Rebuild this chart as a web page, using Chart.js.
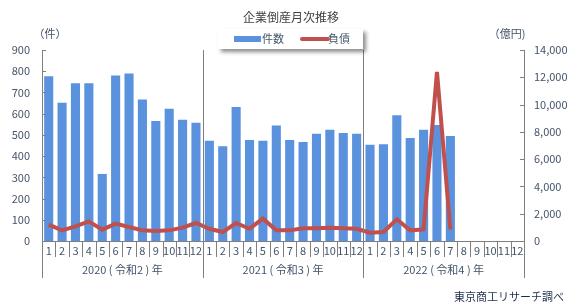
<!DOCTYPE html>
<html>
<head>
<meta charset="utf-8">
<script src="https://cdn.jsdelivr.net/npm/chart.js@4"></script>
<style>
  html, body { margin: 0; padding: 0; background: #fff; }
  #wrap { width: 575px; height: 307px; }
</style>
</head>
<body>
<div id="wrap"><canvas id="chart" width="575" height="307"></canvas></div>
<script>
const months = ['1','2','3','4','5','6','7','8','9','10','11','12']
const labels = [].concat(months, months, months)
const years = ['2020 ( 令和2 ) 年', '2021 ( 令和3 ) 年', '2022 ( 令和4 ) 年']

// 件数
const counts = [776, 652, 743, 743, 316, 780, 789, 667, 566, 623, 571, 557,
                472, 446, 632, 476, 472, 544, 476, 467, 505, 524, 509, 505,
                453, 456, 593, 485, 524, 547, 495]
// 負債 (億円)
const debts = [1200, 780, 1070, 1440, 830, 1270, 1030, 780, 730, 780, 980, 1320,
               900, 660, 1320, 900, 1640, 780, 780, 930, 930, 980, 930, 900,
               610, 660, 1590, 780, 850, 12390, 850]

const leftTicks = [0, 100, 200, 300, 400, 500, 600, 700, 800, 900]
const rightTicks = [0, 2000, 4000, 6000, 8000, 10000, 12000, 14000]

const barColor = '#5a92de'
const lineColor = '#c0504d'
const axisColor = '#7f7f7f'
const textColor = '#44546a'
const jpFont = '"Noto Sans CJK JP", "Noto Sans", sans-serif'

const extras = {
    id: 'extras',
    afterDraw(chart) {
        const c = chart.ctx
        const x = chart.scales.x
        const y = chart.scales.y
        const y1 = chart.scales.y1
        const area = chart.chartArea
        const step = x.getPixelForValue(1) - x.getPixelForValue(0)
        c.save()
        c.strokeStyle = axisColor
        c.lineWidth = 1

        // month separators and year separators
        for (let i = 0; i <= labels.length; i++) {
            const px = Math.round(x.getPixelForValue(i) - step / 2) + 0.5
            c.beginPath()
            if (i % 12 === 0) {
                c.moveTo(px, (i === 0 || i === labels.length) ? area.bottom : area.top)
                c.lineTo(px, area.bottom + 37)
            } else {
                c.moveTo(px, area.bottom)
                c.lineTo(px, area.bottom + 16)
            }
            c.stroke()
        }

        // inward tick marks
        leftTicks.forEach(v => {
            const py = Math.round(y.getPixelForValue(v)) + 0.5
            c.beginPath(); c.moveTo(area.left, py); c.lineTo(area.left + 4, py); c.stroke()
        })
        rightTicks.forEach(v => {
            const py = Math.round(y1.getPixelForValue(v)) + 0.5
            c.beginPath(); c.moveTo(area.right, py); c.lineTo(area.right - 4, py); c.stroke()
        })

        // year labels
        c.fillStyle = textColor
        c.font = '11px ' + jpFont
        c.textAlign = 'center'
        c.textBaseline = 'middle'
        years.forEach((t, k) => {
            const cx = (x.getPixelForValue(k * 12) + x.getPixelForValue(k * 12 + 11)) / 2
            c.fillText(t, cx, area.bottom + 29)
        })

        // units
        c.fillText('（件）', 50, 34)
        c.fillText('（億円)', 507, 34)

        // title
        c.fillStyle = '#404040'
        c.font = '12px ' + jpFont
        c.fillText('企業倒産月次推移', 291, 17)

        // source
        c.fillStyle = '#1f2d4d'
        c.font = '11px ' + jpFont
        c.textAlign = 'right'
        c.fillText('東京商工リサーチ調べ', 564, 297)

        // legend box
        c.save()
        c.shadowColor = 'rgba(0,0,0,0.45)'
        c.shadowOffsetX = 3
        c.shadowOffsetY = 3
        c.shadowBlur = 4
        c.fillStyle = '#ffffff'
        c.fillRect(218, 29, 145, 20)
        c.restore()
        c.fillStyle = barColor
        c.fillRect(234, 36, 27, 6)
        c.strokeStyle = lineColor
        c.lineWidth = 4
        c.lineCap = 'round'
        c.beginPath(); c.moveTo(302, 39); c.lineTo(328, 39); c.stroke()
        c.fillStyle = textColor
        c.font = '11px ' + jpFont
        c.textAlign = 'left'
        c.fillText('件数', 262, 39)
        c.fillText('負債', 328, 39)
        c.restore()
    }
}

new Chart(document.getElementById('chart'), {
    type: 'bar',
    data: {
        labels: labels,
        datasets: [{
            type: 'line',
            label: '負債',
            data: debts,
            yAxisID: 'y1',
            borderColor: lineColor,
            borderWidth: 4,
            pointRadius: 0,
            tension: 0,
            fill: false,
            order: 0
        }, {
            label: '件数',
            data: counts,
            yAxisID: 'y',
            backgroundColor: barColor,
            categoryPercentage: 0.68,
            barPercentage: 1,
            order: 1
        }]
    },
    plugins: [extras],
    options: {
        responsive: false,
        animation: false,
        layout: { padding: { top: 50, left: 0, right: 0, bottom: 0 } },
        plugins: {
            legend: { display: false },
            tooltip: { enabled: false }
        },
        scales: {
            x: {
                offset: true,
                grid: { display: false, drawTicks: false },
                border: { color: axisColor },
                ticks: {
                    color: textColor,
                    font: { size: 11, family: jpFont },
                    padding: 3,
                    maxRotation: 0,
                    autoSkip: false
                },
                afterFit(s) { s.height = 66 }
            },
            y: {
                position: 'left',
                min: 0,
                max: 900,
                afterBuildTicks(s) { s.ticks = leftTicks.map(v => ({ value: v })) },
                grid: { display: false, drawTicks: false },
                border: { color: axisColor },
                ticks: {
                    color: textColor,
                    font: { size: 11, family: jpFont },
                    padding: 12
                },
                afterFit(s) { s.width = 42 }
            },
            y1: {
                position: 'right',
                min: 0,
                max: 14000,
                afterBuildTicks(s) { s.ticks = rightTicks.map(v => ({ value: v })) },
                grid: { display: false, drawTicks: false },
                border: { color: axisColor },
                ticks: {
                    color: textColor,
                    font: { size: 11, family: jpFont },
                    padding: 10,
                    callback: v => v.toLocaleString('en-US')
                },
                afterFit(s) { s.width = 51 }
            }
        }
    }
})
</script>
</body>
</html>
